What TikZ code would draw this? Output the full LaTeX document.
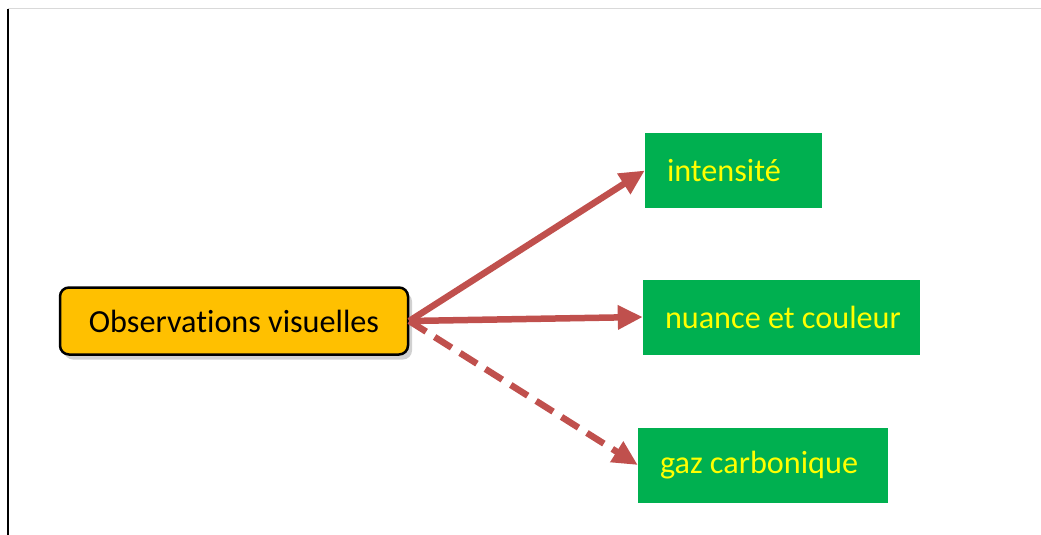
\documentclass[tikz,border=0pt]{standalone}
\usepackage{fontspec}
\setmainfont{Carlito}[RawFeature=-liga]
\usepackage{tikz}
\usetikzlibrary{arrows.meta,shadows}

\definecolor{boxorange}{HTML}{FFC000}
\definecolor{boxgreen}{HTML}{00B050}
\definecolor{arrowred}{HTML}{C0504D}
\definecolor{textyellow}{HTML}{FFFF00}
\newcommand{\leaftext}[1]{\makebox[\linewidth][l]{\raisebox{-3pt}{#1}}}

\begin{document}
\begin{tikzpicture}[x=1pt,y=-1pt,
	mainbox/.style={draw=black,line width=2.5pt,fill=boxorange,rounded corners=9pt,
		minimum width=348pt,minimum height=67pt,inner sep=0pt,
		drop shadow={shadow xshift=4pt,shadow yshift=-5pt,opacity=0.3,fill=black!60},
		font=\fontsize{32.2}{38}\selectfont},
	leafbox/.style={fill=boxgreen,text=textyellow,align=flush left,inner xsep=22pt,
		minimum height=75pt,font=\fontsize{32.2}{38}\selectfont},
	link/.style={draw=arrowred,line width=6.5pt,
		-{Triangle[length=25pt,width=23pt]}}]
	\useasboundingbox (0,0) rectangle (1041,535);
	\draw[black!15,line width=1pt] (8,9) -- (1041,9);
	\draw[black,line width=2pt] (8,9) -- (8,535);
	\node (obs) [mainbox] at (234,321) {Observations visuelles};
	\node (int) [leafbox,text width=133pt] at (733.5,170.5) {\leaftext{intensité}};
	\node (nua) [leafbox,text width=233pt] at (781.5,317) {\leaftext{nuance et couleur}};
	\node (gaz) [leafbox,text width=206pt] at (763,465) {\leaftext{gaz carbonique}};
	\draw[link] (obs.east) -- (int.west);
	\draw[link] (obs.east) -- (nua.west);
	\draw[link,dash pattern=on 20pt off 10pt] (obs.east) -- (gaz.west);
\end{tikzpicture}
\end{document}
